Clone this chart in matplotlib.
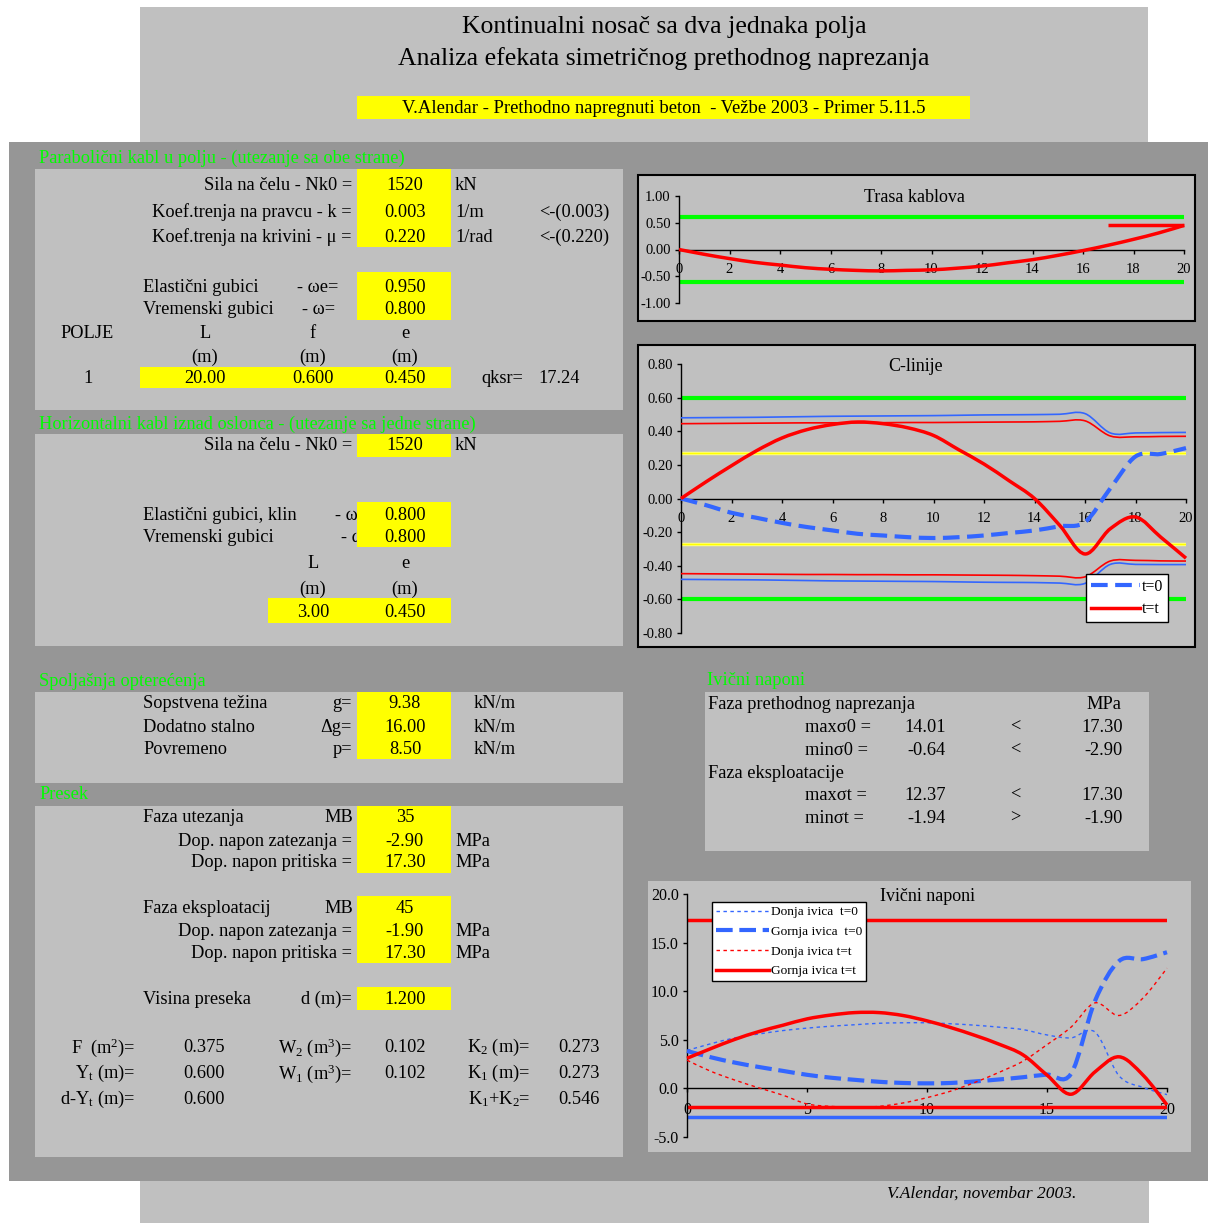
import numpy as np
import matplotlib
matplotlib.use("Agg")
import matplotlib.pyplot as plt
from matplotlib.patches import Rectangle, PathPatch
from matplotlib.path import Path
from matplotlib.lines import Line2D
from matplotlib.ticker import FormatStrFormatter, MultipleLocator

plt.rcParams['font.family'] = ['Liberation Serif', 'DejaVu Serif']
plt.rcParams['mathtext.fontset'] = 'custom'
plt.rcParams['mathtext.rm'] = 'Liberation Serif'
plt.rcParams['mathtext.it'] = 'Liberation Serif:italic'
plt.rcParams['axes.unicode_minus'] = False

W, H = 1208, 1223
FS = 13.2  # body text size

# ---------------- input data ----------------
Nk0 = 1520            # kN
k_fr = 0.003          # 1/m
mu_fr = 0.220         # 1/rad
omega_e = 0.950
omega_t = 0.800
span_L, sag_f, ecc_e = 20.00, 0.600, 0.450
qksr = 17.24
Nk0_h = 1520
omega_klin, omega_h = 0.800, 0.800
L_h, e_h = 3.00, 0.450
g_self, dg_add, p_live = 9.38, 16.00, 8.50
MB_0, ft_0, fc_0 = 35, -2.90, 17.30
MB_t, ft_t, fc_t = 45, -1.90, 17.30
d_sec = 1.200
F_sec, W2_sec, K2_sec = 0.375, 0.102, 0.273
Yt_sec, W1_sec, K1_sec = 0.600, 0.102, 0.273
dYt_sec = 0.600

# stations along the span (m)
x_m = [0, 1, 2, 3, 4, 5, 6, 7, 8, 9, 10, 11, 12, 13, 14, 15, 16, 17, 18, 19, 20]

# cable route (m)
cable_y = [0.00, -0.09, -0.17, -0.24, -0.29, -0.34, -0.37, -0.39, -0.40, -0.39, -0.38,
           -0.35, -0.31, -0.25, -0.19, -0.11, -0.02, 0.08, 0.19, 0.31, 0.45]
hcable_x = [17, 20]
hcable_y = [0.45, 0.45]

# pressure lines (m)
c_t0 = [0.00, -0.04, -0.085, -0.115, -0.145, -0.17, -0.19, -0.21, -0.22, -0.23, -0.235,
        -0.23, -0.22, -0.205, -0.19, -0.165, -0.14, 0.06, 0.25, 0.265, 0.30]
c_tt = [0.00, 0.10, 0.195, 0.285, 0.36, 0.41, 0.44, 0.455, 0.445, 0.42, 0.375,
        0.29, 0.205, 0.105, 0.00, -0.16, -0.33, -0.18, -0.11, -0.23, -0.355]
core_top_t0 = [0.480, 0.481, 0.482, 0.483, 0.485, 0.487, 0.489, 0.490, 0.491, 0.492, 0.493,
               0.495, 0.497, 0.498, 0.499, 0.501, 0.505, 0.390, 0.390, 0.392, 0.393]
core_bot_t0 = [-0.481, -0.482, -0.483, -0.484, -0.486, -0.488, -0.490, -0.491, -0.492, -0.493, -0.494,
               -0.496, -0.498, -0.499, -0.500, -0.503, -0.505, -0.392, -0.392, -0.393, -0.393]
core_top_tt = [0.445, 0.446, 0.447, 0.448, 0.449, 0.450, 0.450, 0.451, 0.451, 0.452, 0.452,
               0.453, 0.454, 0.455, 0.456, 0.459, 0.462, 0.372, 0.367, 0.369, 0.370]
core_bot_tt = [-0.447, -0.448, -0.449, -0.450, -0.451, -0.452, -0.452, -0.453, -0.453, -0.454, -0.454,
               -0.455, -0.456, -0.457, -0.459, -0.462, -0.466, -0.372, -0.368, -0.371, -0.372]

# edge stresses (MPa)
donja_t0 = [3.9, 4.6, 5.2, 5.6, 5.95, 6.2, 6.4, 6.55, 6.7, 6.75, 6.75,
            6.65, 6.5, 6.3, 6.05, 5.5, 5.2, 5.8, 1.3, 0.1, -0.64]
gornja_t0 = [3.85, 3.2, 2.65, 2.2, 1.8, 1.4, 1.1, 0.88, 0.68, 0.56, 0.52,
             0.56, 0.72, 0.92, 1.15, 1.42, 1.5, 9.0, 13.1, 13.3, 14.01]
donja_tt = [2.9, 1.75, 0.85, 0.05, -0.7, -1.6, -1.85, -1.94, -1.85, -1.5, -0.95,
            -0.27, 0.62, 1.65, 2.8, 4.5, 6.3, 8.8, 7.5, 9.3, 12.37]
gornja_tt = [3.1, 4.1, 5.05, 5.85, 6.5, 7.15, 7.55, 7.8, 7.8, 7.5, 6.95,
             6.25, 5.45, 4.55, 3.45, 1.37, -0.6, 1.7, 3.25, 1.37, -1.7]

max_s0 = max(max(donja_t0), max(gornja_t0))
min_s0 = min(min(donja_t0), min(gornja_t0))
max_st = max(max(donja_tt), max(gornja_tt))
min_st = min(min(donja_tt), min(gornja_tt))

# ---------------- colours ----------------
LIGHT = '#C0C0C0'
DARK = '#969696'
YEL = '#FFFF00'
GRN = '#00FF00'
BLUE = '#3366FF'
RED = '#FF0000'

fig = plt.figure(figsize=(W / 100, H / 100), dpi=100)
fig.patch.set_facecolor('white')
bg = fig.add_axes([0, 0, 1, 1])
bg.set_xlim(0, W)
bg.set_ylim(H, 0)
bg.axis('off')


def box(x0, y0, x1, y1, fc, ec='none', lw=0, z=1):
    bg.add_patch(Rectangle((x0, y0), x1 - x0, y1 - y0, fc=fc, ec=ec, lw=lw, zorder=z))


def txt(x, y, s, ha='left', size=FS, color='black', z=3, **kw):
    bg.text(x, y + 1.5, s, ha=ha, va='center', fontsize=size, color=color, zorder=z, **kw)


# page blocks
box(9, 142, W, 1181, DARK)
box(140, 7, 1148, 142, LIGHT)
box(140, 1181, 1149, H, LIGHT)

# header
txt(664, 25, "Kontinualni nosač sa dva jednaka polja", ha='center', size=18.5)
txt(664, 57, "Analiza efekata simetričnog prethodnog naprezanja", ha='center', size=18.5)
box(357, 96, 970, 119, YEL)
txt(664, 107, "V.Alendar - Prethodno napregnuti beton  - Vežbe 2003 - Primer 5.11.5",
    ha='center', size=13.4)

# ---- panel 1: parabolic cable ----
txt(39, 157, "Parabolični kabl u polju - (utezanje sa obe strane)", color=GRN)
box(35, 169, 623, 410, LIGHT)
box(357, 169, 451, 247, YEL, z=1.5)
txt(352, 184, "Sila na čelu - Nk0 =", ha='right')
txt(405, 184, f"{Nk0}", ha='center')
txt(455, 184, "kN")
txt(352, 211, "Koef.trenja na pravcu - k =", ha='right')
txt(405, 211, f"{k_fr:.3f}", ha='center')
txt(455, 211, "1/m")
txt(609, 211, f"<-({k_fr:.3f})", ha='right')
txt(352, 236, "Koef.trenja na krivini - μ =", ha='right')
txt(405, 236, f"{mu_fr:.3f}", ha='center')
txt(455, 236, "1/rad")
txt(609, 236, f"<-({mu_fr:.3f})", ha='right')
box(357, 272, 451, 320, YEL, z=1.5)
txt(143, 286, "Elastični gubici")
txt(297, 286, "- ωe=")
txt(405, 286, f"{omega_e:.3f}", ha='center')
txt(143, 308, "Vremenski gubici")
txt(302, 308, "- ω=")
txt(405, 308, f"{omega_t:.3f}", ha='center')
txt(60, 332, "POLJE")
txt(205, 332, "L", ha='center')
txt(313, 332, "f", ha='center')
txt(405, 332, "e", ha='center')
for xc in (205, 313, 405):
    txt(xc, 356, "(m)", ha='center')
box(140, 367, 451, 388, YEL, z=1.5)
txt(88, 377, "1", ha='center')
txt(205, 377, f"{span_L:.2f}", ha='center')
txt(313, 377, f"{sag_f:.3f}", ha='center')
txt(405, 377, f"{ecc_e:.3f}", ha='center')
txt(481, 377, "qksr=")
txt(538, 377, f"{qksr:.2f}")

# ---- panel 2: horizontal cable ----
txt(39, 423, "Horizontalni kabl iznad oslonca - (utezanje sa jedne strane)", color=GRN)
box(35, 434, 623, 646, LIGHT)
box(357, 434, 451, 457, YEL, z=1.5)
txt(352, 444, "Sila na čelu - Nk0 =", ha='right')
txt(405, 444, f"{Nk0_h}", ha='center')
txt(455, 444, "kN")
txt(143, 514, "Elastični gubici, klin")
txt(335, 514, "- ω=")
txt(143, 536, "Vremenski gubici")
txt(341, 536, "- ω=")
box(357, 502, 451, 547, YEL, z=4)
txt(405, 514, f"{omega_klin:.3f}", ha='center', z=5)
txt(405, 536, f"{omega_h:.3f}", ha='center', z=5)
txt(313, 562, "L", ha='center')
txt(405, 562, "e", ha='center')
txt(313, 588, "(m)", ha='center')
txt(405, 588, "(m)", ha='center')
box(268, 598, 451, 623, YEL, z=1.5)
txt(313, 611, f"{L_h:.2f}", ha='center')
txt(405, 611, f"{e_h:.3f}", ha='center')

# ---- panel 3: loads ----
txt(39, 680, "Spoljašnja opterećenja", color=GRN)
box(35, 692, 623, 783, LIGHT)
box(357, 692, 451, 759, YEL, z=1.5)
for yy, lab, sym, val in ((702, "Sopstvena težina", "g=", g_self),
                          (726, "Dodatno stalno", "Δg=", dg_add),
                          (748, "Povremeno", "p=", p_live)):
    txt(143, yy, lab)
    txt(352, yy, sym, ha='right')
    txt(405, yy, f"{val:.2f}", ha='center')
    txt(474, yy, "kN/m")

# ---- panel 4: section ----
txt(39, 793, "Presek", color=GRN)
box(35, 806, 623, 1157, LIGHT)
box(357, 806, 451, 873, YEL, z=1.5)
txt(143, 816, "Faza utezanja")
txt(353, 816, "MB", ha='right')
txt(405, 816, f"{MB_0}", ha='center')
txt(352, 840, "Dop. napon zatezanja =", ha='right')
txt(405, 840, f"{ft_0:.2f}", ha='center')
txt(455, 840, "MPa")
txt(352, 861, "Dop. napon pritiska =", ha='right')
txt(405, 861, f"{fc_0:.2f}", ha='center')
txt(455, 861, "MPa")

box(357, 896, 451, 963, YEL, z=1.5)
txt(143, 907, "Faza eksploatacij")
txt(353, 907, "MB", ha='right')
txt(405, 907, f"{MB_t}", ha='center')
txt(352, 930, "Dop. napon zatezanja =", ha='right')
txt(405, 930, f"{ft_t:.2f}", ha='center')
txt(455, 930, "MPa")
txt(352, 952, "Dop. napon pritiska =", ha='right')
txt(405, 952, f"{fc_t:.2f}", ha='center')
txt(455, 952, "MPa")

box(357, 987, 451, 1010, YEL, z=1.5)
txt(143, 998, "Visina preseka")
txt(352, 998, "d (m)=", ha='right')
txt(405, 998, f"{d_sec:.3f}", ha='center')

txt(135, 1046, r"F  (m$^2$)=", ha='right')
txt(204, 1046, f"{F_sec:.3f}", ha='center')
txt(352, 1046, r"W$_2$ (m$^3$)=", ha='right')
txt(405, 1046, f"{W2_sec:.3f}", ha='center')
txt(530, 1046, r"K$_2$ (m)=", ha='right')
txt(579, 1046, f"{K2_sec:.3f}", ha='center')
txt(135, 1072, r"Y$_\mathrm{t}$ (m)=", ha='right')
txt(204, 1072, f"{Yt_sec:.3f}", ha='center')
txt(352, 1072, r"W$_1$ (m$^3$)=", ha='right')
txt(405, 1072, f"{W1_sec:.3f}", ha='center')
txt(530, 1072, r"K$_1$ (m)=", ha='right')
txt(579, 1072, f"{K1_sec:.3f}", ha='center')
txt(135, 1098, r"d-Y$_\mathrm{t}$ (m)=", ha='right')
txt(204, 1098, f"{dYt_sec:.3f}", ha='center')
txt(530, 1098, r"K$_1$+K$_2$=", ha='right')
txt(579, 1098, f"{K1_sec + K2_sec:.3f}", ha='center')

# ---- edge stress summary ----
txt(707, 679, "Ivični naponi", color=GRN)
box(705, 692, 1149, 851, LIGHT)
txt(708, 703, "Faza prethodnog naprezanja")
txt(1104, 703, "MPa", ha='center')
txt(805, 726, "maxσ0 =")
txt(946, 726, f"{max_s0:.2f}", ha='right')
txt(1015, 726, "<", ha='center')
txt(1123, 726, f"{fc_0:.2f}", ha='right')
txt(805, 749, "minσ0 =")
txt(946, 749, f"{min_s0:.2f}", ha='right')
txt(1015, 749, "<", ha='center')
txt(1123, 749, f"{ft_0:.2f}", ha='right')
txt(708, 772, "Faza eksploatacije")
txt(805, 794, "maxσt =")
txt(946, 794, f"{max_st:.2f}", ha='right')
txt(1015, 794, "<", ha='center')
txt(1123, 794, f"{fc_t:.2f}", ha='right')
txt(805, 817, "minσt =")
txt(946, 817, f"{min_st:.2f}", ha='right')
txt(1015, 817, ">", ha='center')
txt(1123, 817, f"{ft_t:.2f}", ha='right')

# footer signature
txt(1076, 1192, "V.Alendar, novembar 2003.", ha='right', size=12.5, style='italic')

# chart frames
box(638, 175, 1195, 321, LIGHT, ec='black', lw=1.5)
box(638, 345, 1195, 647, LIGHT, ec='black', lw=1.5)
box(648, 881, 1191, 1152, LIGHT)
txt(914, 196, "Trasa kablova", ha='center', size=13)
txt(916, 365, "C-linije", ha='center', size=13)
txt(927, 895, "Ivični naponi", ha='center', size=13)


def smooth_path(xs, ys):
    """Cubic Bezier path through the points (smoothed line)."""
    p = np.column_stack([xs, ys]).astype(float)
    n = len(p)
    verts = [p[0]]
    codes = [Path.MOVETO]
    for i in range(n - 1):
        pm = p[i - 1] if i > 0 else p[i]
        pp = p[i + 2] if i + 2 < n else p[i + 1]
        c1 = p[i] + (p[i + 1] - pm) / 6.0
        c2 = p[i + 1] - (pp - p[i]) / 6.0
        verts += [c1, c2, p[i + 1]]
        codes += [Path.CURVE4] * 3
    return Path(verts, codes)


def curve(ax, xs, ys, color, lw, ls='-', z=3):
    pp = PathPatch(smooth_path(xs, ys), fill=False, ec=color, lw=lw, ls=ls,
                   capstyle='butt', joinstyle='round', zorder=z, clip_on=False)
    ax.add_patch(pp)


def chart_axes(l, t, r, b, ylim, ystep, yfmt, xstep, lsize):
    ax = fig.add_axes([l / W, 1 - b / H, (r - l) / W, (b - t) / H])
    ax.set_facecolor('none')
    ax.set_xlim(x_m[0], x_m[-1])
    ax.set_ylim(*ylim)
    for s in ('top', 'right'):
        ax.spines[s].set_visible(False)
    ax.spines['bottom'].set_position(('data', 0))
    ax.spines['left'].set_linewidth(1.0)
    ax.spines['bottom'].set_linewidth(1.0)
    ax.yaxis.set_major_locator(MultipleLocator(ystep))
    ax.yaxis.set_major_formatter(FormatStrFormatter(yfmt))
    ax.xaxis.set_major_locator(MultipleLocator(xstep))
    ax.tick_params(axis='both', direction='out', length=3, width=1, labelsize=lsize)
    ax.tick_params(axis='x', pad=7)
    ax.tick_params(axis='y', pad=3)
    return ax


# ---- chart: cable route ----
ax1 = chart_axes(679, 196, 1184, 303, (-1.0, 1.0), 0.5, '%.2f', 2, 10.5)
ax1.hlines([Yt_sec, -dYt_sec], x_m[0], x_m[-1], colors=GRN, lw=3, zorder=2)
curve(ax1, x_m, cable_y, RED, 2.5)
ax1.plot(hcable_x, hcable_y, color=RED, lw=2.5, solid_capstyle='butt', clip_on=False)

# ---- chart: pressure lines ----
ax2 = chart_axes(681, 364, 1186, 633, (-0.8, 0.8), 0.2, '%.2f', 2, 10.5)
ax2.hlines([Yt_sec, -dYt_sec], x_m[0], x_m[-1], colors=GRN, lw=3, zorder=2)
ax2.hlines([K2_sec, -K1_sec], x_m[0], x_m[-1], colors='#FFFF80', lw=2.5, zorder=2)
ax2.hlines([K2_sec, -K1_sec], x_m[0], x_m[-1], colors=YEL, lw=1.0, zorder=2)
curve(ax2, x_m, core_top_t0, BLUE, 1.2)
curve(ax2, x_m, core_bot_t0, BLUE, 1.2)
curve(ax2, x_m, core_top_tt, RED, 1.2)
curve(ax2, x_m, core_bot_tt, RED, 1.2)
curve(ax2, x_m, c_t0, BLUE, 3, ls=(0, (4.0, 1.8)))
curve(ax2, x_m, c_tt, RED, 2.5)
leg2 = ax2.legend(handles=[Line2D([], [], color=BLUE, lw=3, ls=(0, (4.0, 1.8))),
                           Line2D([], [], color=RED, lw=2.5)],
                  labels=['t=0', 't=t'], loc='upper left',
                  bbox_to_anchor=(1086 / W, 1 - 574 / H), bbox_transform=fig.transFigure,
                  fancybox=False, framealpha=1, edgecolor='black', fontsize=11.5,
                  handlelength=3.1, handletextpad=0.1, labelspacing=0.4,
                  borderpad=0.3, borderaxespad=0)
leg2.get_frame().set_linewidth(1.0)

# ---- chart: edge stresses ----
ax3 = chart_axes(687, 894, 1167, 1137, (-5.0, 20.0), 5.0, '%.1f', 5, 11.5)
ax3.hlines([fc_0], x_m[0], x_m[-1], colors=RED, lw=2.5, zorder=2)
ax3.hlines([ft_t], x_m[0], x_m[-1], colors=RED, lw=2.5, zorder=2)
ax3.hlines([ft_0], x_m[0], x_m[-1], colors=BLUE, lw=2.5, zorder=2)
curve(ax3, x_m, donja_t0, BLUE, 1.0, ls=(0, (2.5, 2.5)))
curve(ax3, x_m, gornja_t0, BLUE, 3, ls=(0, (4.0, 1.6)))
curve(ax3, x_m, donja_tt, RED, 1.0, ls=(0, (2.5, 2.5)))
curve(ax3, x_m, gornja_tt, RED, 2.5)
leg3 = ax3.legend(handles=[Line2D([], [], color=BLUE, lw=1.0, ls=(0, (2.5, 2.5))),
                           Line2D([], [], color=BLUE, lw=3, ls=(0, (4.0, 1.6))),
                           Line2D([], [], color=RED, lw=1.0, ls=(0, (2.5, 2.5))),
                           Line2D([], [], color=RED, lw=2.5)],
                  labels=['Donja ivica  t=0', 'Gornja ivica  t=0',
                          'Donja ivica t=t', 'Gornja ivica t=t'],
                  loc='upper left',
                  bbox_to_anchor=(712 / W, 1 - 902 / H), bbox_transform=fig.transFigure,
                  fancybox=False, framealpha=1, edgecolor='black', fontsize=9.6,
                  handlelength=4.0, handletextpad=0.1, labelspacing=0.55,
                  borderpad=0.3, borderaxespad=0)
leg3.get_frame().set_linewidth(1.0)

fig.savefig('out.png', dpi=100, facecolor='white')
